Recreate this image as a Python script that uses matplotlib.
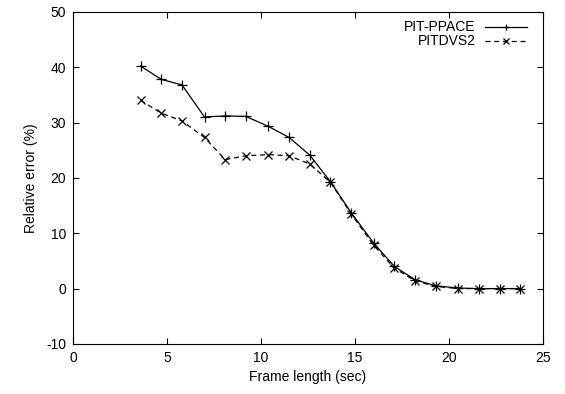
import numpy as np
import matplotlib.pyplot as plt

plt.rcParams['font.family'] = ['Liberation Sans', 'DejaVu Sans']
plt.rcParams['axes.unicode_minus'] = False

# datos
frame = [3.6, 4.7, 5.8, 7.0, 8.1, 9.2, 10.4, 11.5, 12.6, 13.7,
         14.8, 16.0, 17.1, 18.2, 19.3, 20.5, 21.6, 22.7, 23.8]
ppace = [40.2, 37.8, 36.8, 31.0, 31.2, 31.1, 29.3, 27.3, 24.1, 19.3,
         13.7, 8.2, 4.0, 1.6, 0.5, 0.1, 0.0, 0.0, 0.0]
dvs2 = [34.0, 31.7, 30.3, 27.3, 23.3, 24.0, 24.2, 24.0, 22.5, 19.2,
        13.5, 7.8, 3.7, 1.4, 0.4, 0.0, 0.0, 0.0, 0.0]

fig = plt.figure(figsize=(5.65, 3.94), dpi=100)
ax = fig.add_axes([0.129, 0.127, 0.832, 0.843])

ax.plot(frame, ppace, color='black', lw=0.9, marker='+', ms=7, mew=0.9,
        label='PIT-PPACE')
ax.plot(frame, dvs2, color='black', lw=0.9, ls=(0, (4, 3)), marker='x',
        ms=5.5, mew=0.9, label='PITDVS2')

ax.set_xlim(0, 25)
ax.set_ylim(-10, 50)
ax.set_xticks([0, 5, 10, 15, 20, 25])
ax.set_yticks([-10, 0, 10, 20, 30, 40, 50])
ax.tick_params(direction='in', top=True, right=True, length=4.5,
               labelsize=10, width=0.8, pad=5)
ax.set_xlabel('Frame length (sec)', fontsize=10, labelpad=4)
ax.set_ylabel('Relative error (%)', fontsize=10, labelpad=6)

leg = ax.legend(loc='upper right', bbox_to_anchor=(0.966, 0.974),
                frameon=False, markerfirst=False, numpoints=1, fontsize=10,
                handlelength=3.0, borderaxespad=0, borderpad=0,
                labelspacing=0.0, handletextpad=0.7, alignment='right')
for h in leg.legend_handles:
    h.set_markersize(5)

fig.savefig('out.png', dpi=100)
